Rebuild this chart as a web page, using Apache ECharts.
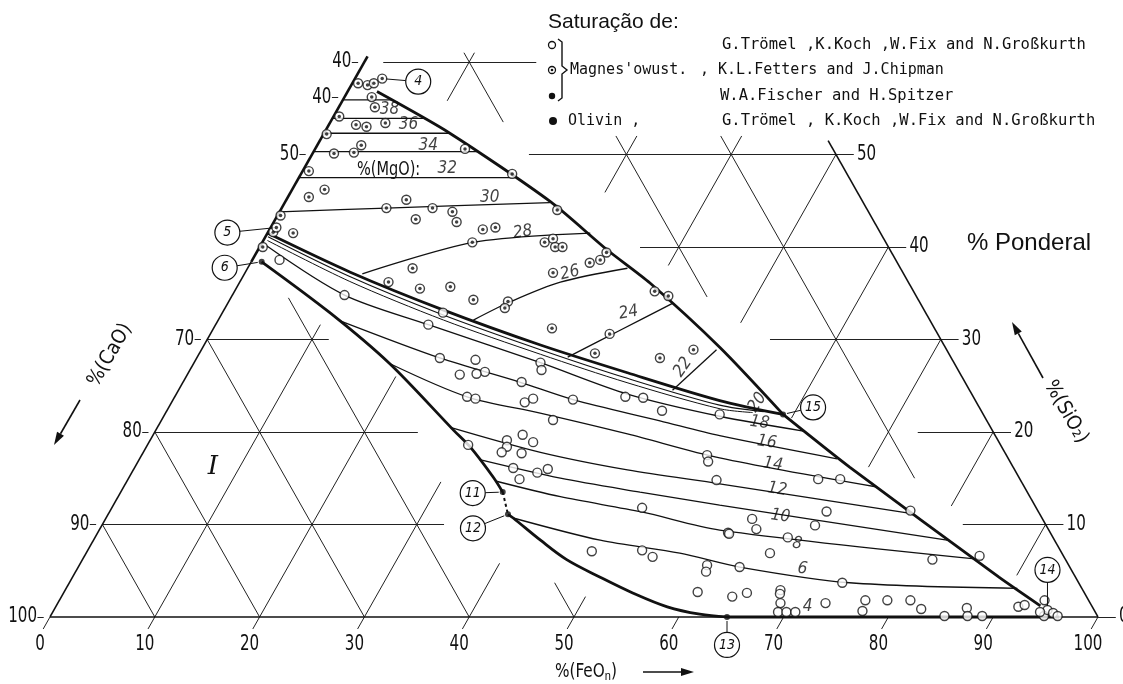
<!DOCTYPE html>
<html><head><meta charset="utf-8">
<script src="https://cdn.jsdelivr.net/npm/echarts@6/dist/echarts.min.js"></script>
<style>html,body{margin:0;padding:0;background:#fff;}#chart{width:1123px;height:684px;}</style>
</head><body><div id="chart"></div>
<script>
// ---------- DATA (ternary compositions: [FeOn %, SiO2 %]; CaO = 100 - FeOn - SiO2) ----------
const bottomTicks = [0,10,20,30,40,50,60,70,80,90,100];          // %FeOn
const leftTickSiO2 = [0,10,20,30,50,60];                          // SiO2 at the CaO-SiO2 edge
const leftTickLabels = ['100','90','80','70','50','40'];          // %CaO read on that edge
const rightTicks = [0,10,20,30,40,50];                            // %SiO2

// phase boundaries
const upperBoundary = [[2.8,56.8],[12.0,52.3],[25.3,44.9],[33.3,39.7],[39.2,36.1],[49.4,29.1],[59.0,21.9]];
const rightBoundary = [[59.0,21.9],[68.2,16.2],[88.4,4.3],[93.9,1.2]];
const olivineBoundary = [[1.0,38.4],[10.25,32.9],[18.7,27.4],[28.4,20.2],[31.0,18.3],[34.75,15.1],[36.45,13.5]];
const dashedBoundary = [[36.45,13.5],[37.3,12.3],[38.15,11.1]];
const c2sBoundary = [[38.15,11.1],[38.85,10.7],[42.65,8.3],[46.2,6.2],[50.35,4.3],[54.3,2.6],[58.35,1.1],[61.85,0.3],[64.6,0]];

// iso-MgO lines, magnesiowustite saturated field
const iso40 = [[0,55.9],[4.6,55.9]];
const iso38 = [[0,53.9],[8.7,53.9]];
const iso36 = [[0,52.3],[12.0,52.3]];
const iso34 = [[0,50.3],[15.6,50.3]];
const iso32 = [[0,47.5],[20.6,47.5]];
const iso30 = [[0,43.8],[10.0,44.2],[25.3,44.8]];
const iso28 = [[11.25,37.1],[20.15,40.5],[30.8,41.5]];
const iso26 = [[24.35,32.1],[26.85,34.05],[30.6,36.2],[36.25,37.7]];
const iso24 = [[35.35,28.1],[38.9,31.0],[42.45,33.9]];
const iso22 = [[47.15,24.5],[49.15,28.9]];
// iso-MgO lines, liquid field
const iso20 = [[0,41.5],[9.95,37.3],[20.9,33.2],[32.1,29.4],[41.9,26.4],[52.2,23.4],[59.0,21.9]];
const band1 = [[0.25,41.1],[10.2,36.8],[21.2,32.65],[32.35,28.9],[42.2,25.8],[52.45,22.9],[57.0,22.2]];
const band2 = [[0.4,40.7],[10.4,36.3],[21.5,32.1],[32.6,28.4],[42.5,25.3],[52.7,22.5],[56.0,22.1]];
const iso18 = [[0.65,40.1],[10.7,34.8],[20.3,31.6],[33.05,27.5],[43.05,24.1],[53.05,21.7],[61.85,20.1]];
const iso16 = [[11.45,32.1],[23.2,28.0],[32.1,25.4],[38.15,23.5],[47.6,21.2],[54.1,19.6],[66.55,17.1]];
const iso14 = [[18.7,27.4],[27.9,23.8],[35.75,22.05],[45.2,19.8],[55.3,17.2],[71.9,14.05]];
const iso12 = [[27.95,20.5],[37.9,17.8],[47.15,15.9],[56.7,14.4],[76.5,11.2]];
const iso10 = [[32.5,17.0],[41.2,15.0],[49.55,13.5],[57.85,12.1],[81.45,8.3]];
const iso8  = [[35.15,14.7],[42.2,13.0],[50.8,11.35],[59.2,9.4],[85.9,6.2]];
const iso6  = [[38.85,10.7],[48.35,8.3],[56.65,6.9],[63.1,5.4],[74.45,3.7],[90.75,3.1]];

// measured points
const ptsMagnesio = [[0.55,57.7],[1.55,57.5],[2.05,57.7],[2.6,58.2],[2.6,56.2],[3.45,55.1],[0.55,54.1],[2.6,53.2],[3.7,53.0],[5.3,53.4],[0.3,52.2],[2.05,50.1],[3.9,50.2],[4.2,51.0],[14.3,50.6],[0.6,48.2],[20.15,47.9],[3.1,46.2],[2.0,45.4],[0.3,43.4],[10.0,44.2],[11.45,45.1],[14.4,44.2],[16.5,43.8],[13.4,43.0],[17.45,42.7],[20.35,41.9],[21.45,42.1],[20.05,40.5],[26.95,40.5],[27.55,40.9],[28.2,40.0],[28.9,40.0],[33.4,39.4],[33.2,38.6],[32.35,38.3],[29.4,37.2],[15.75,37.7],[20.35,35.7],[17.55,35.5],[14.2,36.2],[23.25,34.3],[26.65,34.1],[26.7,33.4],[40.1,35.2],[41.65,34.7],[32.3,31.2],[38.1,30.6],[37.75,28.5],[44.2,28.0],[46.95,28.9],[26.4,44.0],[2.45,41.5],[0.5,41.6],[0.3,40.0],[0.55,42.1]];
const ptsLiquid = [[10.7,34.8],[2.6,38.6],[20.3,31.6],[21.05,32.9],[33.05,27.5],[33.55,26.7],[23.2,28.0],[26.7,27.8],[28.25,26.5],[27.55,26.3],[26.0,26.2],[32.3,25.4],[27.9,23.8],[28.8,23.6],[33.7,23.2],[34.3,23.6],[38.15,23.5],[43.0,23.8],[44.75,23.7],[47.25,22.3],[37.35,21.3],[52.95,21.9],[30.6,18.6],[34.05,19.1],[35.25,19.7],[36.65,18.9],[34.4,18.4],[34.2,17.8],[36.15,17.7],[36.15,16.1],[37.35,14.9],[38.7,15.6],[39.5,16.0],[53.95,17.5],[54.4,16.8],[56.2,14.8],[50.6,11.8],[60.15,9.1],[48.15,7.1],[52.9,7.2],[54.25,6.5],[59.9,5.6],[60.15,4.9],[63.1,5.4],[60.45,2.7],[64.0,2.2],[65.2,2.6],[65.85,14.9],[67.95,14.9],[68.4,11.4],[76.35,11.5],[61.7,10.6],[62.65,9.5],[68.05,9.9],[60.3,9.0],[66.1,8.6],[65.25,6.9],[81.1,6.2],[85.4,6.6],[76.9,1.8],[79.0,1.8],[81.2,1.8],[77.2,0.65],[82.7,0.86],[85.3,0.1],[87.0,0.97],[87.5,0.1],[88.9,0.1],[91.85,1.1],[92.35,1.3],[94.0,1.8],[94.8,0.1],[94.8,0.76],[95.5,0.43],[96.1,0.1],[94.2,0.54],[68.25,2.9],[68.4,2.5],[68.95,1.5],[69.2,0.54],[70.0,0.54],[70.85,0.54],[73.25,1.5],[73.75,3.7]];
const ptsOlivine = [[1.0,38.4],[36.45,13.5],[38.15,11.1],[64.6,0],[59.0,21.9]];

// numbered invariant points
const keyNames = ['4','5','6','11','12','13','14','15'];
const keyPoints = [[2.6,58.2],[0.55,42.1],[1.0,38.4],[36.45,13.5],[38.15,11.1],[64.6,0],[94.8,0.76],[59.0,21.9]];

// iso-MgO label values
const mgoLabelText = ['38','36','34','32','30','28','26','24','22','20','18','16','14','12','10','8','6','4'];
const mgoLabelAt  = [[5.0,54.8],[7.6,53.2],[10.6,51.0],[13.65,48.5],[19.3,45.3],[24.3,41.6],[31.0,37.2],[38.75,32.9],[46.9,27.0],[55.9,23.2],[57.2,21.0],[58.95,18.9],[60.75,16.5],[62.5,13.8],[64.25,10.9],[67.35,7.9],[69.2,5.2],[71.75,1.1]];
const mgoEdgeLabel = {text:'40', at:[0,56.2]};

// ---------- LAYOUT / STYLE ----------
const T = p => [p[0] + p[1] / 2, p[1]];
const mgoRot = [0,0,0,0,0,8,14,10,55,55,-8,-8,-8,-8,-8,-8,-8,0];

const gridSegs = [
  [[0,10],[32.6,10]],[[0,20],[25.1,20]],[[0,30],[11.6,30]],
  [[82.1,10],[90,10]],[[72.8,20],[80,20]],[[53.7,30],[70,30]],[[36.3,40],[60,40]],[[20.7,50],[50,50]],[[1.8,60],[16.4,60]],
  [[10,0],[10,31.6]],[[20,0],[20,26]],[[30,0],[30,14.6]],[[40,0],[40,5.8]],[[50,0],[50,2.2]],
  [[90,4.5],[90,10]],[[80,12],[80,20]],[[70,16.2],[70,30]],[[60,21.5],[60,40]],[[50,31.8],[50,50]],[[40,38],[40,52]],[[30,45.9],[30,52]],[[10,55.8],[10,61]],
  [[10,0],[0,10]],[[20,0],[0,20]],[[30,0],[0,30]],[[40,0],[5.5,34.5]],[[50,0],[46.3,3.7]],
  [[16.5,53.5],[9,61]],[[45.4,34.6],[28,52]],[[75,15],[38,52]]
];
const tickSegs = [];
bottomTicks.forEach(c => tickSegs.push([[c,0],[c,-1.3]]));
leftTickSiO2.forEach(s => tickSegs.push([[-1.2,s],[-0.6,s]]));
tickSegs.push([[-1.2,56.2],[-0.6,56.2]]);
rightTicks.forEach(s => tickSegs.push([[100-s,s],[101.7-s,s]]));

const chart = echarts.init(document.getElementById('chart'), null, {renderer:'canvas'});
const BLACK = '#111';
function curve(pts, width, smooth, type) {
  return {type:'line', data: pts.map(T), symbol:'none', smooth: smooth || false, silent:true,
    lineStyle:{color:BLACK, width:width, type: type || 'solid'}, z:3};
}
function labelSeries(pts, texts, lab, rots) {
  return {type:'scatter', symbolSize:0, silent:true, z:6,
    data: pts.map((p,i) => ({value:T(p), label:{formatter:texts[i], rotate: rots ? rots[i] : 0}})),
    label: Object.assign({show:true, position:'inside', color:BLACK}, lab)};
}
const COND = '"DejaVu Sans Condensed","Liberation Sans",sans-serif';

const series = [
  {type:'lines', coordinateSystem:'cartesian2d', silent:true, z:1,
    lineStyle:{color:'#222', width:1, opacity:1},
    data: gridSegs.concat(tickSegs).map(s => ({coords: s.map(T)}))},
  // triangle edges
  curve([[0,0],[0,38.4]], 1.6), curve([[0,38.4],[0,60.6]], 2.6),
  curve([[0,0],[64.6,0]], 1.5), curve([[64.6,0],[96.3,0]], 3), curve([[96.3,0],[100,0]], 1.5),
  curve([[100,0],[48.5,51.5]], 1.6),
  // boundaries
  curve(upperBoundary, 2.8, 0.25), curve(rightBoundary, 2.8, 0.2),
  curve(olivineBoundary, 2.8, 0.3), curve(dashedBoundary, 2, 0.3, [3,3]), curve(c2sBoundary, 2.8, 0.35),
  curve(iso20, 2.8, 0.3), curve(band1, 1.1, 0.3), curve(band2, 1.0, 0.3),
  curve(iso40,1.2), curve(iso38,1.2), curve(iso36,1.5), curve(iso34,1.3), curve(iso32,1.3), curve(iso30,1.3,0.3),
  curve(iso28,1.3,0.3), curve(iso26,1.3,0.3), curve(iso24,1.3,0.3), curve(iso22,1.3),
  curve(iso18,1.3,0.3), curve(iso16,1.3,0.3), curve(iso14,1.3,0.3), curve(iso12,1.3,0.3),
  curve(iso10,1.3,0.3), curve(iso8,1.3,0.3), curve(iso6,1.3,0.3),
  // points
  {type:'scatter', data: ptsLiquid.map(T), symbol:'circle', symbolSize:9, silent:true, z:5,
    itemStyle:{color:'#fff', borderColor:BLACK, borderWidth:1.4}},
  {type:'scatter', data: ptsMagnesio.map(T), symbol:'circle', symbolSize:9, silent:true, z:5,
    itemStyle:{color:'#fff', borderColor:BLACK, borderWidth:1.4}},
  {type:'scatter', data: ptsMagnesio.map(T), symbol:'circle', symbolSize:3.5, silent:true, z:6,
    itemStyle:{color:BLACK}},
  {type:'scatter', data: ptsOlivine.map(T), symbol:'circle', symbolSize:6, silent:true, z:6,
    itemStyle:{color:BLACK}},
  // iso-MgO labels
  labelSeries(mgoLabelAt, mgoLabelText, {fontFamily:COND, fontStyle:'italic', fontSize:17}, mgoRot)
];

chart.setOption({
  animation:false,
  backgroundColor:'#fff',
  grid:{left:0, right:0, top:0, bottom:0},
  xAxis:{type:'value', min:-4.771, max:102.386, show:false},
  yAxis:{type:'value', min:-7.246, max:66.7, show:false},
  series: series
});

// ---------- tick labels & annotations (placed from the data through the axes) ----------
const g = [];
const P = p => chart.convertToPixel({gridIndex:0}, T(p));
function tickText(p, text, dx, dy, align) {
  const [x,y] = P(p);
  g.push({type:'text', x:x+dx, y:y+dy, scaleX:0.8, style:{text, fill:BLACK, font:'21px '+COND, align, verticalAlign:'middle'}, z:12});
}
bottomTicks.forEach(c => tickText([c,0], String(c), -10, 28, 'center'));
leftTickSiO2.forEach((s,i) => tickText([0,s], leftTickLabels[i], -13, 0, 'right'));
rightTicks.forEach(s => tickText([100-s,s], String(s), 21, 0, 'left'));
tickText(mgoEdgeLabel.at, mgoEdgeLabel.text, -13, 0, 'right');

const mono = '"DejaVu Sans Mono",monospace';
const annOffset = [[36,3],[-49,5],[-37,6],[-30,1],[-35,14],[0,28],[0,-40],[30,-7]];
keyPoints.forEach((p,i) => {
  const [px,py] = P(p);
  const cx = px + annOffset[i][0], cy = py + annOffset[i][1];
  const d = Math.hypot(cx-px, cy-py), ux = (cx-px)/d, uy = (cy-py)/d, r = 12.5;
  g.push({type:'line', shape:{x1:px+ux*4, y1:py+uy*4, x2:cx-ux*r, y2:cy-uy*r}, style:{stroke:BLACK, lineWidth:1}, z:10});
  g.push({type:'circle', shape:{cx:cx, cy:cy, r:r}, style:{fill:'#fff', stroke:BLACK, lineWidth:1.2}, z:10});
  g.push({type:'text', x:cx, y:cy, style:{text:keyNames[i], fill:BLACK, font:'italic 14px '+COND, align:'center', verticalAlign:'middle'}, z:11});
});
function arrow(x1,y1,x2,y2) {
  const d = Math.hypot(x2-x1,y2-y1), ux=(x2-x1)/d, uy=(y2-y1)/d, L=13, W=4;
  const bx = x2-ux*L, by = y2-uy*L;
  g.push({type:'line', shape:{x1,y1,x2:bx,y2:by}, style:{stroke:BLACK, lineWidth:1.6}, z:10});
  g.push({type:'polygon', shape:{points:[[x2,y2],[bx-uy*W,by+ux*W],[bx+uy*W,by-ux*W]]}, style:{fill:BLACK}, z:10});
}
arrow(80,400,54,445);
arrow(1043,378,1012,322);
arrow(643,672,694,672);
const txt = (x,y,text,font,extra) => g.push({type:'text', x, y, style:Object.assign({text, fill:BLACK, font, verticalAlign:'middle'}, extra||{}), z:12});
txt(548,22,'Saturação de:','21px "Liberation Sans",Arial,sans-serif');
txt(722,45,'G.Trömel ,K.Koch ,W.Fix and N.Großkurth','15.5px '+mono);
txt(570,70,"Magnes'owust.",'15px '+mono);
txt(700,70,', K.L.Fetters and J.Chipman','15px '+mono);
txt(720,96,'W.A.Fischer and H.Spitzer','15.5px '+mono);
txt(568,121,'Olivin ,','15px '+mono);
txt(722,121,'G.Trömel , K.Koch ,W.Fix and N.Großkurth','15.5px '+mono);
g.push({type:'circle', shape:{cx:552, cy:45, r:3.5}, style:{fill:'#fff', stroke:BLACK, lineWidth:1.3}, z:12});
g.push({type:'circle', shape:{cx:552, cy:70, r:3.5}, style:{fill:'#fff', stroke:BLACK, lineWidth:1.3}, z:12});
g.push({type:'circle', shape:{cx:552, cy:70, r:1.3}, style:{fill:BLACK}, z:12});
g.push({type:'circle', shape:{cx:552, cy:96, r:3.2}, style:{fill:BLACK}, z:12});
g.push({type:'circle', shape:{cx:553, cy:121, r:4}, style:{fill:BLACK}, z:12});
g.push({type:'polyline', shape:{points:[[558,39],[562,42],[562,66],[567,70],[562,74],[562,98],[558,101]]}, style:{stroke:BLACK, lineWidth:1.4, fill:null}, z:12});
txt(967,243,'% Ponderal','24px "Liberation Sans",Arial,sans-serif');
g.push({type:'text', x:357, y:170, scaleX:0.85, style:{text:'%(MgO):', fill:BLACK, font:'19px '+COND, verticalAlign:'middle'}, z:12});
txt(213,467,'I','italic 26px "DejaVu Serif",serif',{align:'center'});
g.push({type:'text', x:555, y:672, scaleX:0.85, style:{text:'%(FeO{s|n})', rich:{s:{fontSize:13, verticalAlign:'bottom', padding:[8,0,0,0]}}, fill:BLACK, font:'20px '+COND, verticalAlign:'middle'}, z:12});
g.push({type:'text', x:110, y:355, rotation:Math.PI/3, style:{text:'%(CaO)', fill:BLACK, font:'20px '+COND, align:'center', verticalAlign:'middle'}, z:12});
g.push({type:'text', x:1066, y:412, rotation:-Math.PI/3, style:{text:'%(SiO₂)', fill:BLACK, font:'20px '+COND, align:'center', verticalAlign:'middle'}, z:12});
chart.setOption({graphic: g});
</script>
</body></html>
